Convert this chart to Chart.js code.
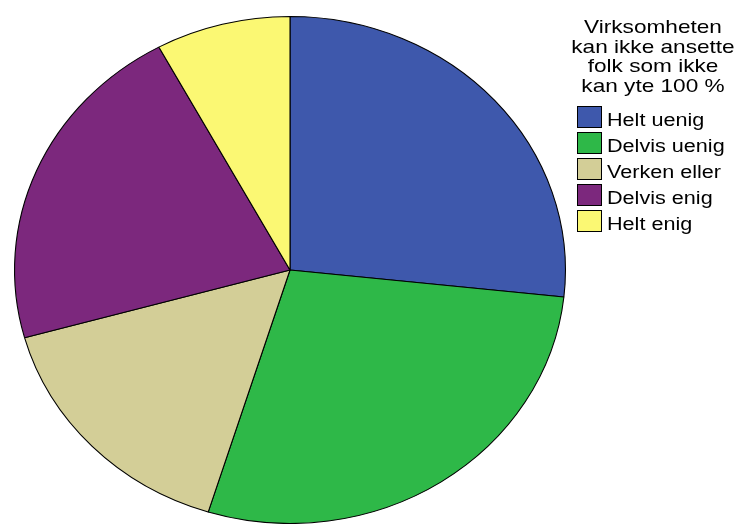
<!DOCTYPE html>
<html>
<head>
<meta charset="utf-8">
<script src="https://cdn.jsdelivr.net/npm/chart.js@4"></script>
<style>
  html, body { margin: 0; padding: 0; background: #fff; }
  #wrap { width: 736px; height: 524px; }
</style>
</head>
<body>
<div id="wrap"><canvas id="c" width="736" height="524"></canvas></div>
<script>
// data (share of answers, %)
const categories = ['Helt uenig', 'Delvis uenig', 'Verken eller', 'Delvis enig', 'Helt enig'];
const shares = [26.7, 28.1, 15.9, 21.4, 7.9];
const sliceColors = ['#3E58AC', '#2EB848', '#D3CE97', '#7C287D', '#FBF873'];
const legendTitle = ['Virksomheten', 'kan ikke ansette', 'folk som ikke', 'kan yte 100 %'];

// the pie in the picture is a little wider than tall
const stretchX = 276 / 254;

// stretch only the slices, not the legend
const ellipsePlugin = {
  id: 'ellipse',
  beforeDatasetsDraw(chart) {
    const arc = chart.getDatasetMeta(0).data[0];
    const ctx = chart.ctx;
    ctx.save();
    ctx.translate(arc.x, arc.y);
    ctx.scale(stretchX, 1);
    ctx.translate(-arc.x, -arc.y);
  },
  afterDatasetsDraw(chart) {
    chart.ctx.restore();
  }
};

// legend like the SPSS one: centred title lines, then boxes
const sideLegend = {
  id: 'sideLegend',
  afterDraw(chart) {
    const ctx = chart.ctx;
    ctx.save();
    ctx.fillStyle = '#000';
    ctx.textBaseline = 'alphabetic';

    ctx.font = '19px "Liberation Sans", Arial, sans-serif';
    ctx.textAlign = 'center';
    legendTitle.forEach((line, i) => {
      ctx.save();
      ctx.translate(653, 33 + i * 19.5);
      ctx.scale(1.19, 1);
      ctx.fillText(line, 0, 0);
      ctx.restore();
    });

    ctx.font = '18px "Liberation Sans", Arial, sans-serif';
    ctx.textAlign = 'left';
    categories.forEach((name, i) => {
      const top = 106 + i * 26;
      ctx.fillStyle = sliceColors[i];
      ctx.fillRect(577.5, top + 0.5, 24, 21);
      ctx.strokeStyle = '#000';
      ctx.lineWidth = 1;
      ctx.strokeRect(577.5, top + 0.5, 24, 21);
      ctx.fillStyle = '#000';
      ctx.save();
      ctx.translate(607, top + 20);
      ctx.scale(1.2, 1);
      ctx.fillText(name, 0, 0);
      ctx.restore();
    });
    ctx.restore();
  }
};

new Chart(document.getElementById('c'), {
  type: 'pie',
  data: {
    labels: categories,
    datasets: [{
      data: shares,
      backgroundColor: sliceColors,
      borderColor: '#000',
      borderWidth: 1
    }]
  },
  options: {
    responsive: false,
    animation: false,
    layout: { padding: { left: 36, right: 192, top: 16, bottom: 0 } },
    plugins: {
      legend: { display: false },
      tooltip: { enabled: false }
    }
  },
  plugins: [ellipsePlugin, sideLegend]
});
</script>
</body>
</html>
